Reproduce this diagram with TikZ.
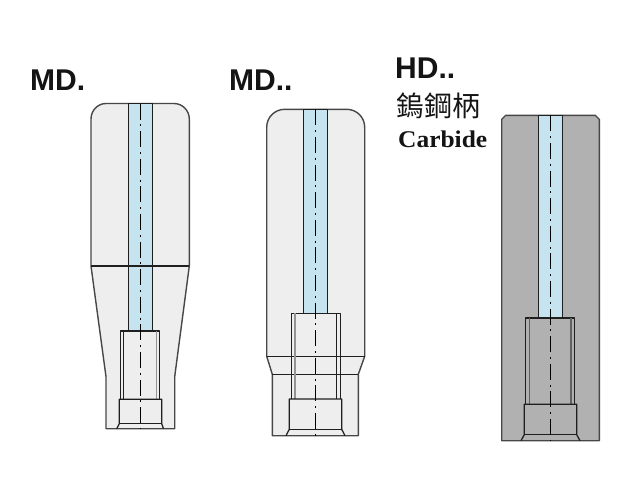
\documentclass[tikz,border=0pt]{standalone}
\usepackage{fontspec}
\setmainfont{Liberation Sans}
\newfontfamily\serifbold[BoldFont={Liberation Serif Bold}]{Liberation Serif}
\newfontfamily\cjkfont{Noto Sans CJK TC}
\definecolor{bodylight}{HTML}{EEEEEE}
\definecolor{bodydark}{HTML}{B0B1B0}
\definecolor{boreblue}{HTML}{C6E3F0}
\tikzset{
  x=1pt,y=-1pt,
  edge/.style={draw=black!88,line width=1.25pt,line join=round},
  outline/.style={draw=black!72,line width=1.4pt,line join=round},
  softline/.style={draw=black!42,line width=1.3pt},
  axis/.style={draw=black,line width=1.1pt,dash pattern=on 16pt off 4.8pt on 2pt off 4.8pt},
  lightbody/.style={outline,fill=bodylight},
  darkbody/.style={outline,fill=bodydark},
  borefill/.style={edge,fill=boreblue},
  headline/.style={anchor=base west,inner sep=0pt,text=black!92,font=\fontsize{30}{32}\selectfont\bfseries},
}
\begin{document}
\begin{tikzpicture}
\useasboundingbox (0,0) rectangle (640,480);
\fill[white] (0,0) rectangle (640,480);

% --- MD. ---
\path[lightbody] (91,266) -- (91,119) .. controls (91,110.5) and (97.7,103.5) .. (106,103.5) -- (174,103.5)
  .. controls (182.5,103.5) and (189.3,110.5) .. (189.3,119) -- (189.3,266)
  -- (174.7,376.7) -- (174.7,428.7) -- (106,428.7) -- (106,376.7) -- cycle;
\path[borefill] (128.7,331) -- (128.7,103.5) -- (152.3,103.5) -- (152.3,331);
\draw[edge] (91,266) -- (189.3,266);
\draw[edge] (120.3,399.3) -- (120.3,331) -- (159.7,331) -- (159.7,399.3);
\draw[edge] (123.7,331) -- (123.7,399.3);
\draw[softline] (156.3,331) -- (156.3,399.3);
\draw[edge] (116.7,428.7) -- (119.3,423.7) -- (119.3,399.3) -- (161.7,399.3) -- (161.7,423.7) -- (163.5,428.7);
\draw[edge] (119.3,423.7) -- (161.7,423.7);
\draw[axis] (140.3,103.5) -- (140.3,428.7);

% --- MD.. ---
\path[lightbody] (266.7,356.3) -- (266.7,127.3) .. controls (266.7,117.3) and (274.7,109.3) .. (284.7,109.3) -- (346.7,109.3)
  .. controls (356.7,109.3) and (364.7,117.3) .. (364.7,127.3) -- (364.7,356.3)
  -- (358.3,374.3) -- (358.3,435.7) -- (272.3,435.7) -- (272.3,374.3) -- cycle;
\path[borefill] (303.7,313.3) -- (303.7,109.3) -- (327.3,109.3) -- (327.3,313.3);
\draw[edge] (266.7,356.3) -- (364.7,356.3);
\draw[edge] (272.3,374.3) -- (358.3,374.3);
\draw[edge] (291.3,399) -- (291.3,313.3) -- (340.3,313.3) -- (340.3,399);
\draw[softline] (295,313.3) -- (295,399);
\draw[edge] (336.3,313.3) -- (336.3,399);
\draw[edge] (286,435.7) -- (289.3,429.3) -- (289.3,399) -- (341.7,399) -- (341.7,429.3) -- (345,435.7);
\draw[edge] (289.3,429.3) -- (341.7,429.3);
\draw[axis] (315.3,109.3) -- (315.3,435.7);

% --- HD.. ---
\path[darkbody] (501.7,440.7) -- (501.7,119.3) -- (505.7,115.3) -- (595.3,115.3) -- (599.3,119.3) -- (599.3,440.7) -- cycle;
\path[borefill] (538.7,318) -- (538.7,115.3) -- (562.3,115.3) -- (562.3,318);
\draw[edge] (525.7,404.3) -- (525.7,318) -- (574.7,318) -- (574.7,404.3);
\draw[softline,draw=black!62] (529.7,318) -- (529.7,404.3);
\draw[softline,draw=black!62] (571,318) -- (571,404.3);
\draw[edge] (521,440.7) -- (524.3,434.7) -- (524.3,404.3) -- (576.7,404.3) -- (576.7,434.7) -- (580,440.7);
\draw[edge] (524.3,434.7) -- (576.7,434.7);
\draw[axis] (550.3,115.3) -- (550.3,440.7);

% --- labels ---
\node[headline] (mda) at (30,90) {MD.};
\node[headline] (mdb) at (229,90) {MD..};
\node[headline] (hd) at (395,78) {HD..};
\node[anchor=base west,inner sep=0pt,text=black!92,font=\fontsize{28}{30}\cjkfont] (cjk) at (396.5,116) {鎢鋼柄};
\node[anchor=base west,inner sep=0pt,text=black!92,font=\fontsize{24}{26}\serifbold\bfseries,xscale=1.06] (carb) at (398,147.7) {Carbide};
\end{tikzpicture}
\end{document}
